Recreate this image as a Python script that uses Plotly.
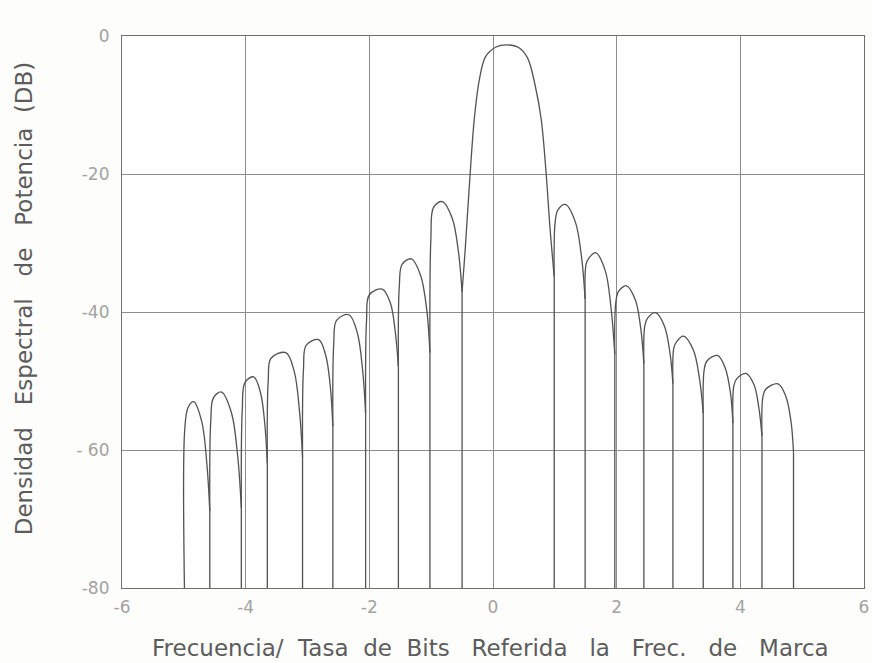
import plotly.graph_objects as go

# Nulls between lobes (frequency / bit rate) and the level of the dip at each null (dB)
null_freq = [-4.99, -4.58, -4.07, -3.65, -3.08, -2.59, -2.06, -1.53, -1.02, -0.50,
             0.99, 1.49, 1.97, 2.44, 2.91, 3.40, 3.88, 4.35, 4.86]
null_db = [-80.0, -68.9, -68.4, -61.9, -61.1, -56.6, -54.7, -48.0, -45.9, -37.1,
           -34.9, -38.1, -46.1, -47.5, -50.4, -54.7, -56.1, -58.0, -60.4]

# Side lobes, left to right (main lobe excluded):
# steep rise out of the null, shoulder, peak, then the slower fall towards the next null
rise_freq = [-4.985, -4.565, -4.055, -3.635, -3.065, -2.575, -2.045, -1.515, -1.005,
             1.005, 1.505, 1.985, 2.455, 2.925, 3.415, 3.895, 4.365]
rise_db = [-57.0, -55.9, -54.2, -49.9, -48.3, -44.5, -41.2, -36.2, -29.5,
           -27.0, -33.1, -38.7, -42.0, -45.2, -48.4, -50.7, -52.3]
shoulder_freq = [-4.93, -4.52, -4.01, -3.59, -3.02, -2.53, -2.00, -1.47, -0.96,
                 1.05, 1.55, 2.03, 2.50, 2.97, 3.46, 3.94, 4.41]
shoulder_db = [-53.8, -52.4, -50.2, -46.7, -44.8, -41.2, -37.5, -33.1, -24.8,
               -25.2, -32.2, -37.0, -40.9, -44.3, -47.1, -49.7, -51.2]
peak_freq = [-4.84, -4.39, -3.87, -3.35, -2.82, -2.33, -1.79, -1.32, -0.82,
             1.17, 1.66, 2.16, 2.63, 3.08, 3.63, 4.09, 4.61]
peak_db = [-53.0, -51.6, -49.4, -45.9, -44.0, -40.4, -36.7, -32.3, -24.0,
           -24.4, -31.4, -36.2, -40.1, -43.5, -46.3, -48.9, -50.4]
fall_freq = [-4.71, -4.23, -3.76, -3.215, -2.705, -2.195, -1.66, -1.17, -0.66,
             1.33, 1.815, 2.30, 2.77, 3.24, 3.755, 4.22, 4.735]
fall_db = [-55.9, -54.6, -51.7, -48.6, -46.3, -43.0, -38.7, -34.7, -26.4,
           -26.9, -34.0, -38.2, -42.0, -45.5, -48.1, -50.5, -52.2]
flank_freq = [-4.63, -4.13, -3.69, -3.13, -2.63, -2.11, -1.58, -1.07, -0.56,
              1.43, 1.91, 2.39, 2.86, 3.34, 3.84, 4.30, 4.82]
flank_db = [-61.7, -60.8, -56.3, -54.3, -50.9, -48.3, -42.9, -39.8, -31.2,
            -31.9, -39.5, -42.4, -45.8, -49.7, -51.7, -53.9, -55.9]

# Main lobe, between the nulls at -0.50 and 0.99
main_freq = [-0.45, -0.37, -0.30, -0.22, -0.12, 0.05, 0.23, 0.42, 0.56,
             0.68, 0.78, 0.86, 0.92]
main_db = [-31.0, -20.0, -11.8, -6.3, -3.0, -1.6, -1.3, -1.7, -3.2,
           -7.1, -12.1, -20.0, -27.6]

x_ticks = [-6, -4, -2, 0, 2, 4, 6]
x_tick_text = ["-6", "-4", "-2", "0", "2", "4", "6"]
y_ticks = [-80, -60, -40, -20, 0]
y_tick_text = ["-80", "- 60", "-40", "-20", "0"]

FLOOR = -80.0
INK = "#525252"
GRID = "#8d8d8d"
FONT = "DejaVu Sans"

# One smooth segment per lobe, each running from one null to the next
main_slot = sum(1 for f in peak_freq if f < 0)
lobe_x, lobe_y = [], []
k = 0
for i in range(len(null_freq) - 1):
    xs, ys = [null_freq[i]], [null_db[i]]
    if i == main_slot:
        xs += main_freq
        ys += main_db
    else:
        xs += [rise_freq[k], shoulder_freq[k], peak_freq[k], fall_freq[k], flank_freq[k]]
        ys += [rise_db[k], shoulder_db[k], peak_db[k], fall_db[k], flank_db[k]]
        k += 1
    xs.append(null_freq[i + 1])
    ys.append(null_db[i + 1])
    lobe_x += xs + [None]
    lobe_y += ys + [None]

# Vertical drop from every null down to the floor of the chart
drop_x, drop_y = [], []
for f, d in zip(null_freq, null_db):
    drop_x += [f, f, None]
    drop_y += [FLOOR, d, None]

fig = go.Figure()
fig.add_trace(go.Scatter(x=drop_x, y=drop_y, mode="lines",
                         line=dict(color=INK, width=1.3), hoverinfo="skip"))
fig.add_trace(go.Scatter(x=lobe_x, y=lobe_y, mode="lines",
                         line=dict(color=INK, width=1.3, shape="spline", smoothing=1.0),
                         connectgaps=False, hoverinfo="skip"))

axis_common = dict(showgrid=True, gridcolor=GRID, gridwidth=1,
                   showline=True, linecolor="#6f6f6f", linewidth=1.2, mirror=True,
                   zeroline=False, ticks="", ticklabeloverflow="allow", automargin=False,
                   tickfont=dict(family=FONT, size=17, color="#a2a2a2"))

fig.update_xaxes(range=[-6, 6], tickvals=x_ticks, ticktext=x_tick_text,
                 ticklabelstandoff=3, **axis_common)
fig.update_yaxes(range=[FLOOR, 0], tickvals=y_ticks, ticktext=y_tick_text,
                 ticklabelstandoff=8, **axis_common)

nb = "\u00a0"
x_title = (f"Frecuencia/{nb} Tasa{nb} de{nb} Bits{nb}{nb} Referida{nb}{nb} la{nb}{nb} "
           f"Frec.{nb}{nb} de{nb}{nb} Marca")
y_title = f"Densidad{nb}{nb} Espectral{nb}{nb} de{nb}{nb} Potencia{nb} (DB)"

fig.add_annotation(text=x_title, xref="paper", yref="paper", x=0.497, y=-0.108,
                   xanchor="center", yanchor="middle", showarrow=False,
                   font=dict(family=FONT, size=23, color="#5c5c5c"))
fig.add_annotation(text=y_title, xref="paper", yref="paper", x=-0.132, y=0.525,
                   xanchor="center", yanchor="middle", textangle=-90, showarrow=False,
                   font=dict(family=FONT, size=23, color="#5c5c5c"))

fig.update_layout(
    width=872, height=663,
    margin=dict(l=122, r=8, t=36, b=75),
    paper_bgcolor="#fdfdfb",
    plot_bgcolor="#fefefe",
    showlegend=False,
)

fig.write_html("out.html")
